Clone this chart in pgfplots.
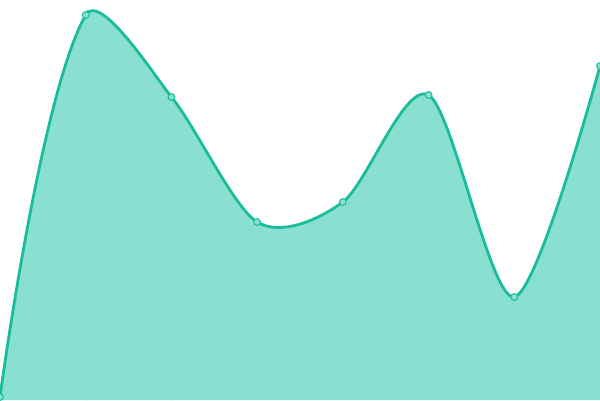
\documentclass[border=0pt]{standalone}
\usepackage{pgfplots}
\pgfplotsset{compat=1.18}
\definecolor{linec}{HTML}{1ABC9C}
\definecolor{fillc}{HTML}{89E0D0}
\pgfplotstableread{
x y
0 3
1 385
2 303
3 178
4 198
5 305
6 103
7 334
}\series
\pgfplotsset{
  base/.style={scale only axis, hide axis, height=200pt, ymin=0, ymax=400,
    anchor=south west, clip marker paths=true},
  curve/.style={smooth, draw=linec, line width=1.4pt},
}
\begin{document}
\begin{tikzpicture}
% the curve is drawn in three slices, each with its own tension
\begin{axis}[base, at={(0pt,0pt)}, width=43.714pt, xmin=0, xmax=1.02]
\addplot[smooth, tension=0.95, draw=none, fill=fillc] table {\series} \closedcycle;
\addplot[curve, tension=0.95] table {\series};
\end{axis}
\begin{axis}[base, at={(42.857pt,0pt)}, width=43.714pt, xmin=1, xmax=2.02]
\addplot[smooth, tension=0.3, draw=none, fill=fillc] table {\series} \closedcycle;
\addplot[curve, tension=0.3] table {\series};
\end{axis}
\begin{axis}[base, at={(85.714pt,0pt)}, width=214.286pt, xmin=2, xmax=7]
\addplot[smooth, tension=0.5, draw=none, fill=fillc] table {\series} \closedcycle;
\addplot[curve, tension=0.5] table {\series};
\end{axis}
\begin{axis}[base, name=ax, at={(0pt,0pt)}, width=300pt, xmin=0, xmax=7]
\addplot[only marks, mark=*, mark size=1.7pt,
  mark options={fill=fillc, draw=linec, line width=0.5pt}] table {\series};
\end{axis}
\pgfresetboundingbox
\path (ax.south west) rectangle (ax.north east);
\end{tikzpicture}
\end{document}
